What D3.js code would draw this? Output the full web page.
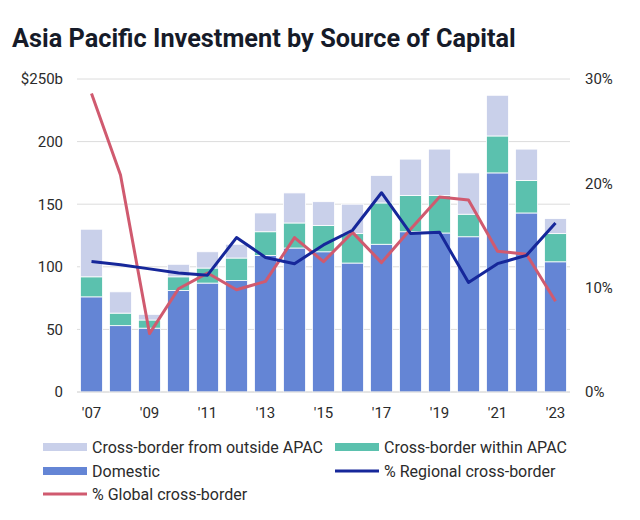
<!DOCTYPE html>
<html>
<head>
<meta charset="utf-8">
<script src="https://cdn.jsdelivr.net/npm/d3@7"></script>
<style>
  html, body { margin: 0; padding: 0; background: #fff; }
  svg { display: block; font-family: Roboto, "Noto Sans", sans-serif; }
</style>
</head>
<body>
<svg id="chart" width="640" height="520"></svg>
<script>
const years = [2007,2008,2009,2010,2011,2012,2013,2014,2015,2016,2017,2018,2019,2020,2021,2022,2023];
const domestic = [76, 53, 51, 81, 87, 89, 109, 115, 112, 103, 118, 128, 127, 124, 175, 143, 104];
const withinAPAC = [16, 10, 6.5, 11, 12, 18, 19, 20, 21, 23.5, 33, 29, 30, 18, 29.5, 26, 22.5];
const outsideAPAC = [38, 17, 4.5, 10, 13, 11, 15, 24, 19, 23.5, 22, 29, 37, 33, 32.5, 25, 12];
const regionalPct = [12.5, 12.2, 11.8, 11.4, 11.2, 14.8, 12.9, 12.3, 14.1, 15.5, 19.1, 15.2, 15.3, 10.5, 12.3, 13.1, 16.2];
const globalPct = [28.6, 20.8, 5.6, 9.9, 11.4, 9.8, 10.6, 14.8, 12.5, 15.3, 12.4, 15.6, 18.7, 18.4, 13.5, 13.2, 8.7];
const leftTicks = [0, 50, 100, 150, 200, 250];
const rightTicks = [0, 10, 20, 30];
const xTickYears = [2007, 2009, 2011, 2013, 2015, 2017, 2019, 2021, 2023];

const colors = {
  outside: "#c9d0ea",
  within: "#5bc1ae",
  domestic: "#6485d5",
  regional: "#16279a",
  global: "#d05a6f"
};

const svg = d3.select("#chart");
const plotL = 77, plotR = 570, plotT = 79, plotB = 392;

const x = d3.scaleBand().domain(years).range([plotL, plotR]).paddingInner(0.24).paddingOuter(0.12);
const y = d3.scaleLinear().domain([0, 250]).range([plotB, plotT]);
const y2 = d3.scaleLinear().domain([0, 30]).range([plotB, plotT]);

// title
svg.append("text").attr("x", 12).attr("y", 47)
  .attr("font-size", 25.3).attr("font-weight", 700).attr("fill", "#161b29")
  .text("Asia Pacific Investment by Source of Capital");

// gridlines
svg.append("g").selectAll("line").data(leftTicks).join("line")
  .attr("x1", plotL).attr("x2", plotR)
  .attr("y1", d => y(d)).attr("y2", d => y(d))
  .attr("stroke", "#dcdcdc").attr("stroke-width", 1);

// left axis
const leftAxis = d3.axisLeft(y).tickValues(leftTicks).tickSize(0).tickPadding(0)
  .tickFormat(d => d === 250 ? "$250b" : d);
const gl = svg.append("g").attr("transform", `translate(63,0)`).call(leftAxis);
gl.select(".domain").remove();
gl.selectAll("text").attr("font-size", 15).attr("fill", "#2b2b2b").attr("font-family", "Roboto, sans-serif");

// right axis
const rightAxis = d3.axisRight(y2).tickValues(rightTicks).tickSize(0).tickPadding(0)
  .tickFormat(d => d + "%");
const gr = svg.append("g").attr("transform", `translate(585,0)`).call(rightAxis);
gr.select(".domain").remove();
gr.selectAll("text").attr("font-size", 15).attr("fill", "#2b2b2b").attr("font-family", "Roboto, sans-serif");

// stacked bars
const rows = years.map((yr, i) => ({ year: yr, domestic: domestic[i], within: withinAPAC[i], outside: outsideAPAC[i] }));
const stack = d3.stack().keys(["domestic", "within", "outside"])(rows);
svg.append("g").selectAll("g").data(stack).join("g")
  .attr("fill", d => colors[d.key])
  .selectAll("rect").data(d => d).join("rect")
  .attr("x", d => x(d.data.year))
  .attr("width", x.bandwidth())
  .attr("y", d => y(d[1]))
  .attr("height", d => y(d[0]) - y(d[1]))
  .attr("stroke", "#fff").attr("stroke-width", 0.8);

// baseline
svg.append("line").attr("x1", plotL).attr("x2", plotR).attr("y1", plotB).attr("y2", plotB)
  .attr("stroke", "#dcdcdc");

// x axis
const xAxis = d3.axisBottom(x).tickValues(xTickYears).tickSize(0).tickPadding(0)
  .tickFormat(d => "'" + String(d).slice(2));
const gx = svg.append("g").attr("transform", `translate(0,407)`).call(xAxis);
gx.select(".domain").remove();
gx.selectAll("text").attr("font-size", 15).attr("fill", "#2b2b2b").attr("font-family", "Roboto, sans-serif");

// lines
const lineGen = vals => d3.line()
  .x((d, i) => x(years[i]) + x.bandwidth() / 2)
  .y(d => y2(d))(vals);
svg.append("path").attr("d", lineGen(globalPct))
  .attr("fill", "none").attr("stroke", colors.global).attr("stroke-width", 3).attr("stroke-linejoin", "round");
svg.append("path").attr("d", lineGen(regionalPct))
  .attr("fill", "none").attr("stroke", colors.regional).attr("stroke-width", 3).attr("stroke-linejoin", "round");

// legend
const legend = [
  { label: "Cross-border from outside APAC", type: "bar", color: colors.outside, x: 43, y: 447 },
  { label: "Cross-border within APAC", type: "bar", color: colors.within, x: 335, y: 447 },
  { label: "Domestic", type: "bar", color: colors.domestic, x: 43, y: 471 },
  { label: "% Regional cross-border", type: "line", color: colors.regional, x: 335, y: 471 },
  { label: "% Global cross-border", type: "line", color: colors.global, x: 43, y: 494 }
];
const lg = svg.append("g").selectAll("g").data(legend).join("g")
  .attr("transform", d => `translate(${d.x},${d.y})`);
lg.filter(d => d.type === "bar").append("rect")
  .attr("x", 0).attr("y", -4).attr("width", 44).attr("height", 8).attr("fill", d => d.color);
lg.filter(d => d.type === "line").append("line")
  .attr("x1", 0).attr("x2", 44).attr("y1", 0).attr("y2", 0)
  .attr("stroke", d => d.color).attr("stroke-width", 3);
lg.append("text").attr("x", 49).attr("y", 0).attr("dy", "0.35em")
  .attr("font-size", 16).attr("fill", "#2b2b2b").text(d => d.label);
</script>
</body>
</html>
